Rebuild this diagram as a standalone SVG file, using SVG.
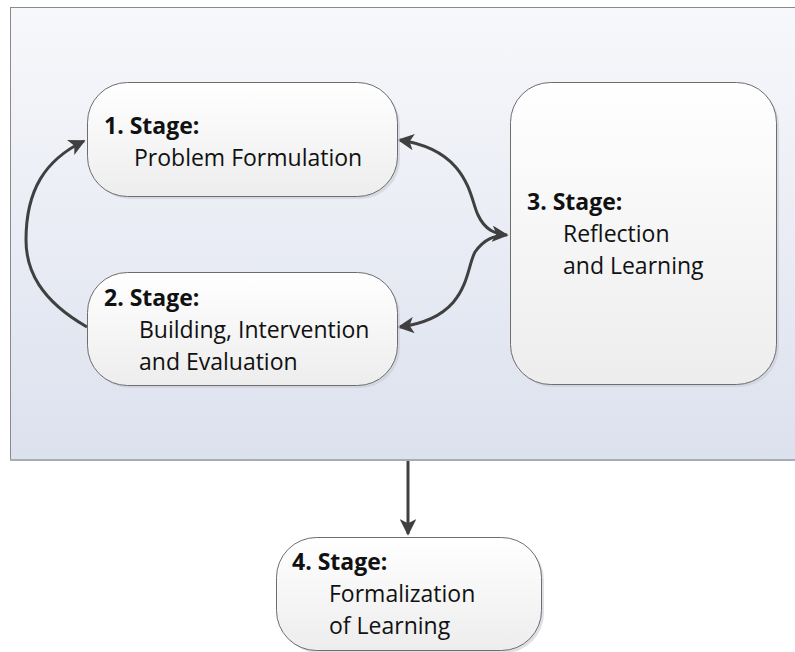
<svg xmlns="http://www.w3.org/2000/svg" width="795" height="652" viewBox="0 0 795 652">
<defs>
<linearGradient id="bg" x1="0" y1="0" x2="0" y2="1">
<stop offset="0" stop-color="#f7f8fb"/>
<stop offset="1" stop-color="#dce1ee"/>
</linearGradient>
<linearGradient id="nf" x1="0" y1="0" x2="0" y2="1">
<stop offset="0" stop-color="#ffffff"/>
<stop offset="1" stop-color="#ededed"/>
</linearGradient>
<marker id="ah" viewBox="0 0 10 10" refX="9" refY="5" markerWidth="5.5" markerHeight="5.5" orient="auto-start-reverse" markerUnits="strokeWidth">
<path d="M0,0 L10,5 L0,10 L2.5,5 Z" fill="#404040"/>
</marker>
</defs>
<style>
.node{fill:url(#nf);stroke:#6d6d6d;stroke-width:1}
.shadow{fill:#c8ccd6;opacity:0.6}
.t{font-family:"Open Sans","Liberation Sans",sans-serif;font-size:23px;fill:#111}
.b{font-weight:bold}
.c{fill:none;stroke:#404040;stroke-width:3}
</style>
<rect x="10.5" y="7.5" width="790" height="453" fill="url(#bg)" stroke="#8a8a8a" stroke-width="1"/>
<line x1="10" y1="460" x2="795" y2="460" stroke="#a8acb4" stroke-width="2"/>
<g id="connectors">
<path class="c" d="M87,327 C40,300 26,270 26,240 C26,190 45,160 84,141" marker-end="url(#ah)"/>
<path class="c" d="M399,140 C470,150 470,200 478,215 C485,230 495,234 507,235" marker-start="url(#ah)" marker-end="url(#ah)"/>
<path class="c" d="M399,327 C470,318 465,270 475,252 C485,238 495,236 505,235" marker-start="url(#ah)"/>
<path class="c" d="M408,461 L408,534" marker-end="url(#ah)"/>
</g>
<g id="node1">
<rect class="shadow" x="90" y="85" width="310" height="114" rx="40"/>
<rect class="node" x="87.5" y="82.5" width="310" height="114" rx="40"/>
<text class="t b" x="104" y="134">1. Stage:</text>
<text class="t" x="134" y="166">Problem Formulation</text>
</g>
<g id="node2">
<rect class="shadow" x="90" y="275" width="310" height="113" rx="40"/>
<rect class="node" x="87.5" y="272.5" width="310" height="113" rx="40"/>
<text class="t b" x="104" y="306">2. Stage:</text>
<text class="t" x="139" y="338">Building, Intervention</text>
<text class="t" x="139" y="370">and Evaluation</text>
</g>
<g id="node3">
<rect class="shadow" x="513" y="85" width="266" height="302" rx="40"/>
<rect class="node" x="510.5" y="82.5" width="266" height="302" rx="40"/>
<text class="t b" x="527" y="210">3. Stage:</text>
<text class="t" x="563" y="242">Reflection</text>
<text class="t" x="563" y="274">and Learning</text>
</g>
<g id="node4">
<rect class="shadow" x="279" y="540" width="265" height="113" rx="40"/>
<rect class="node" x="276.5" y="537.5" width="265" height="113" rx="40"/>
<text class="t b" x="292" y="570">4. Stage:</text>
<text class="t" x="329" y="602">Formalization</text>
<text class="t" x="329" y="634">of Learning</text>
</g>
</svg>
